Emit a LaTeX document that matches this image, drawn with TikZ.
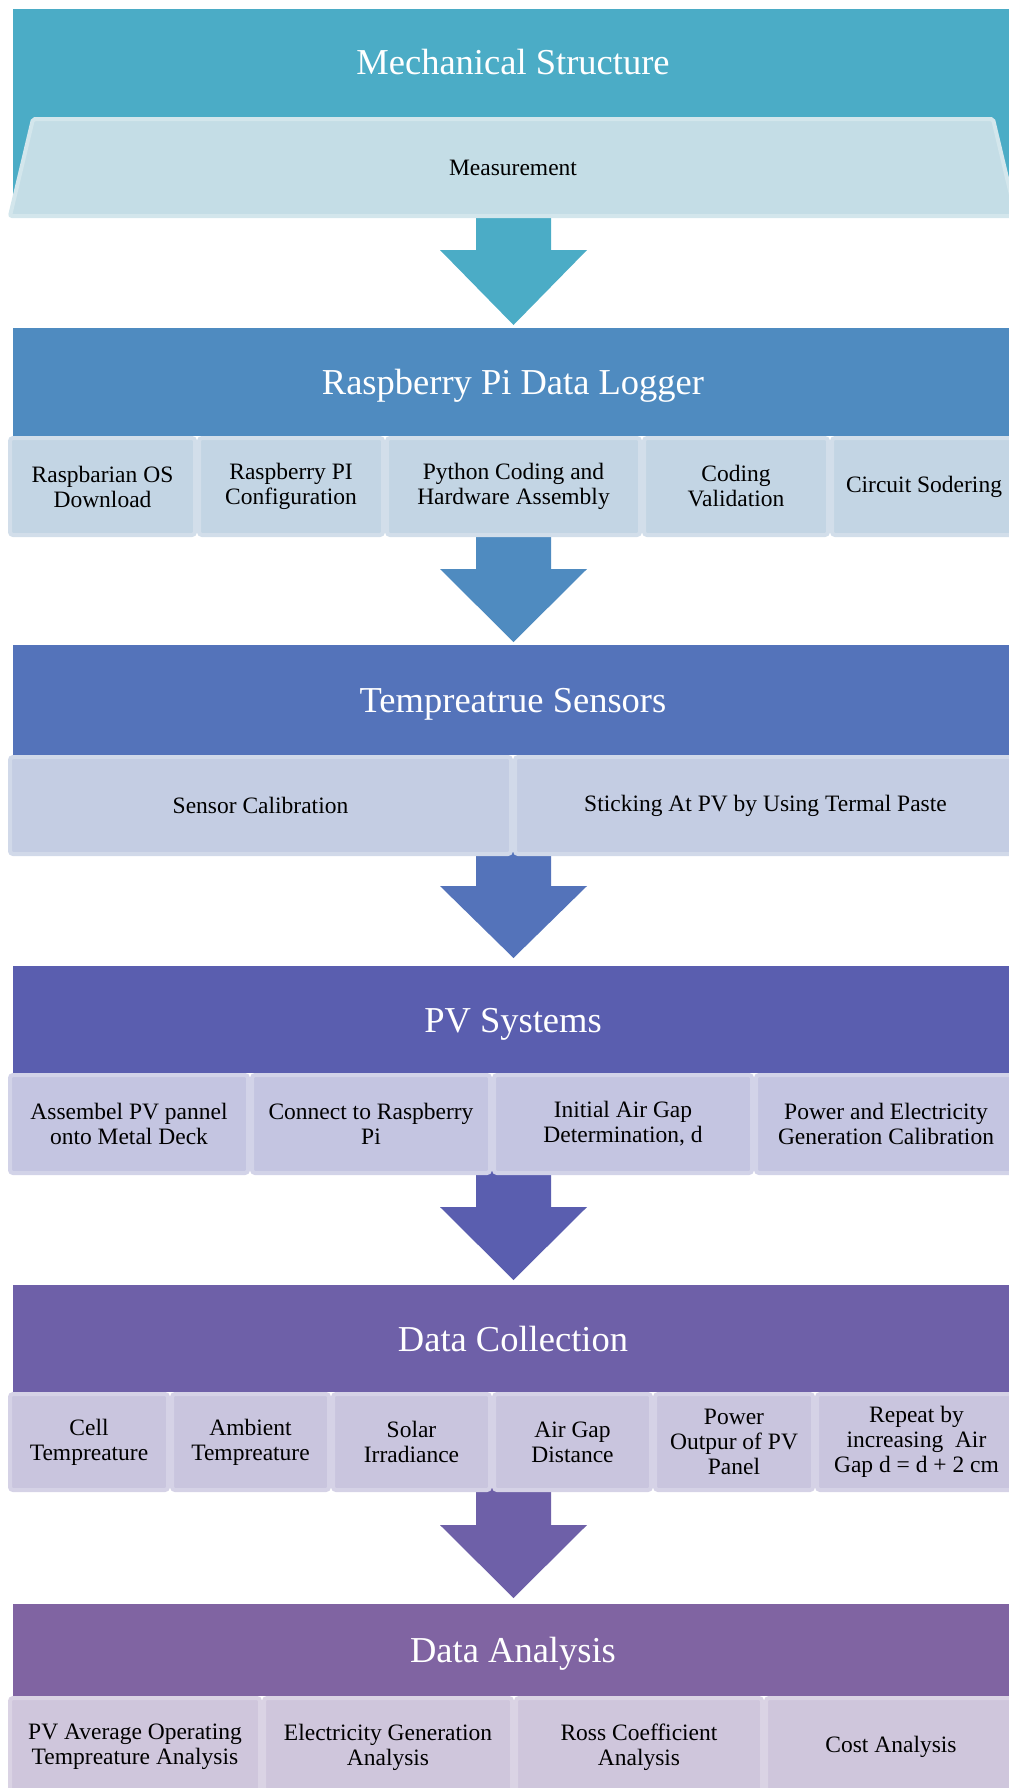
\documentclass[tikz,border=0pt]{standalone}
\usepackage{fontspec}
\setmainfont{Liberation Serif}
\definecolor{bandA}{HTML}{4BACC6}
\definecolor{bandB}{HTML}{4F8BC0}
\definecolor{bandC}{HTML}{5473BA}
\definecolor{bandD}{HTML}{5A5EAF}
\definecolor{bandE}{HTML}{6E60A8}
\definecolor{bandF}{HTML}{8064A2}
\definecolor{fillA}{HTML}{C4DDE6}\definecolor{edgeA}{HTML}{D3E6EC}
\definecolor{fillB}{HTML}{C3D5E4}\definecolor{edgeB}{HTML}{D2DEEA}
\definecolor{fillC}{HTML}{C4CDE3}\definecolor{edgeC}{HTML}{D1D9E9}
\definecolor{fillD}{HTML}{C4C5E1}\definecolor{edgeD}{HTML}{D2D3E8}
\definecolor{fillE}{HTML}{C9C5DE}\definecolor{edgeE}{HTML}{D5D2E6}
\definecolor{fillF}{HTML}{CFC6DC}\definecolor{edgeF}{HTML}{DAD3E4}
\newcommand{\blockarrow}[4]{%
  \fill[#1] (476,#2) -- (551,#2) -- (551,#3) -- (587,#3) -- (513.5,#4) -- (440,#3) -- (476,#3) -- cycle;}
\newcommand{\subcell}[7]{%
  \pgfmathsetmacro{\cellx}{(#2+#3)/2}%
  \pgfmathsetmacro{\cellw}{#3-#2-4}%
  \pgfmathsetmacro{\celly}{(#4+#5)/2}%
  \pgfmathsetmacro{\cellh}{#5-#4-4}%
  \node[cell, fill=fill#6, draw=edge#6, minimum width=\cellw pt, minimum height=\cellh pt] (#1) at (\cellx,\celly) {#7};}
\begin{document}
\begin{tikzpicture}[x=1pt,y=-1pt,
  cell/.style={rectangle, rounded corners=3pt, line width=4pt, inner sep=0pt, align=center,
    font=\fontsize{23.5}{25}\selectfont, text=black},
  bandtitle/.style={anchor=base, text=white, font=\fontsize{36.5}{40}\selectfont, inner sep=0pt}]
\useasboundingbox (0,0) rectangle (1009,1788);
\clip (0,0) rectangle (1009,1788);
% ---- Mechanical Structure
\fill[bandA] (13,9) rectangle (1013,200);
\node[bandtitle] (t1) at (513,74) {Mechanical Structure};
\blockarrow{bandA}{205}{250}{325}
\path[fill=fillA, draw=edgeA, line width=4pt, rounded corners=2pt]
  (33,119) -- (993,119) -- (1016,216) -- (10,216) -- cycle;
\node[font=\fontsize{23.5}{25}\selectfont, inner sep=0pt] (meas) at (513,168) {Measurement};
% ---- Raspberry Pi Data Logger
\node[fill=bandB, minimum width=1000pt, minimum height=108pt, inner sep=0pt] (b2) at (513,382) {};
\node[bandtitle] (t2) at (513,394.5) {Raspberry Pi Data Logger};
\blockarrow{bandB}{530}{569}{642}
\subcell{r2a}{8}{197}{436}{537}{B}{Raspbarian OS\\Download}
\subcell{r2b}{197}{385}{436}{537}{B}{Raspberry PI\\Configuration}
\subcell{r2c}{385}{642}{436}{537}{B}{Python Coding and\\Hardware Assembly}
\subcell{r2d}{642}{830}{436}{537}{B}{Coding\\Validation}
\subcell{r2e}{830}{1018}{436}{537}{B}{Circuit Sodering}
% ---- Tempreatrue Sensors
\node[fill=bandC, minimum width=1000pt, minimum height=110pt, inner sep=0pt] (b3) at (513,700) {};
\node[bandtitle] (t3) at (513,712.5) {Tempreatrue Sensors};
\blockarrow{bandC}{850}{886}{958}
\subcell{r3a}{8}{513}{755}{856}{C}{Sensor Calibration}
\subcell{r3b}{513}{1018}{755}{856}{C}{Sticking At PV by Using Termal Paste}
% ---- PV Systems
\node[fill=bandD, minimum width=1000pt, minimum height=107pt, inner sep=0pt] (b4) at (513,1019.5) {};
\node[bandtitle] (t4) at (513,1032) {PV Systems};
\blockarrow{bandD}{1170}{1207}{1280}
\subcell{r4a}{8}{250}{1073}{1175}{D}{Assembel PV pannel\\onto Metal Deck}
\subcell{r4b}{250}{492}{1073}{1175}{D}{Connect to Raspberry\\Pi}
\subcell{r4c}{492}{754}{1073}{1175}{D}{Initial Air Gap\\Determination, d}
\subcell{r4d}{754}{1018}{1073}{1175}{D}{Power and Electricity\\Generation Calibration}
% ---- Data Collection
\node[fill=bandE, minimum width=1000pt, minimum height=107pt, inner sep=0pt] (b5) at (513,1338.5) {};
\node[bandtitle] (t5) at (513,1351) {Data Collection};
\blockarrow{bandE}{1487}{1525}{1598}
\subcell{r5a}{8}{170}{1392}{1492}{E}{Cell\\Tempreature}
\subcell{r5b}{170}{331}{1392}{1492}{E}{Ambient\\Tempreature}
\subcell{r5c}{331}{492}{1392}{1492}{E}{Solar\\Irradiance}
\subcell{r5d}{492}{653}{1392}{1492}{E}{Air Gap\\Distance}
\subcell{r5e}{653}{815}{1392}{1492}{E}{Power\\Outpur of PV\\Panel}
\subcell{r5f}{815}{1018}{1392}{1492}{E}{Repeat by\\increasing~ Air\\Gap d = d + 2 cm}
% ---- Data Analysis
\node[fill=bandF, minimum width=1000pt, minimum height=92pt, inner sep=0pt] (b6) at (513,1650) {};
\node[bandtitle] (t6) at (513,1662.5) {Data Analysis};
\subcell{r6a}{8}{262}{1696}{1798}{F}{PV Average Operating\\Tempreature Analysis}
\subcell{r6b}{262}{514}{1696}{1798}{F}{Electricity Generation\\Analysis}
\subcell{r6c}{514}{764}{1696}{1798}{F}{Ross Coefficient\\Analysis}
\subcell{r6d}{764}{1018}{1696}{1798}{F}{Cost Analysis}
\end{tikzpicture}
\end{document}
